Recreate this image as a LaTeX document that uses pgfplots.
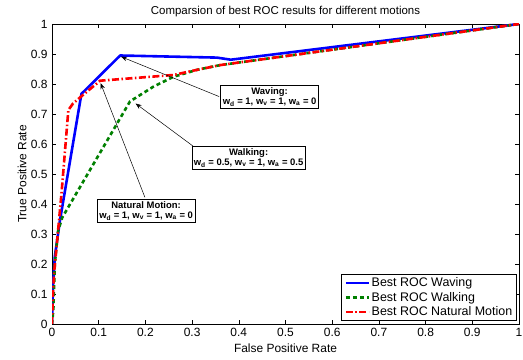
\documentclass[border=0pt]{standalone}
\usepackage{fontspec}
\setmainfont{Liberation Sans}
\usepackage{pgfplots}
\pgfplotsset{compat=1.18}
\usetikzlibrary{arrows.meta}
\definecolor{mblue}{rgb}{0,0,1}
\definecolor{mgreen}{rgb}{0,0.5,0}
\definecolor{mred}{rgb}{1,0,0}
\begin{document}
\begin{tikzpicture}
\useasboundingbox (0,0) rectangle (523bp,360bp);
\begin{axis}[
  at={(52bp,36bp)}, anchor=south west,
  width=467bp, height=300bp, scale only axis,
  xmin=0, xmax=1, ymin=0, ymax=1,
  xtick={0,0.1,0.2,0.3,0.4,0.5,0.6,0.7,0.8,0.9,1},
  ytick={0,0.1,0.2,0.3,0.4,0.5,0.6,0.7,0.8,0.9,1},
  /pgf/number format/.cd, fixed, precision=1, assume math mode=true, /pgfplots/.cd,
  tick align=inside, major tick length=4bp,
  tick style={line width=0.6bp, black},
  axis line style={line width=0.7bp},
  tick label style={font=\fontsize{12}{14}\selectfont},
  xticklabel style={yshift=-1bp},
  yticklabel style={xshift=-1bp},
  xlabel={False Positive Rate},
  ylabel={True Positive Rate},
  label style={font=\fontsize{12}{14}\selectfont},
  xlabel style={at={(axis description cs:0.5,-0.08)}, anchor=center},
  ylabel style={at={(axis description cs:-0.064,0.5)}, anchor=center},
  title={Comparsion of best ROC results for different motions},
  title style={font=\fontsize{11.5}{13}\selectfont, at={(axis description cs:0.5,1.022)}, anchor=center},
  legend cell align=left,
  legend style={at={(axis description cs:1,0)}, anchor=south east, xshift=-2bp, yshift=3bp,
    font=\fontsize{12.5}{14}\selectfont, draw=black, line width=0.6bp,
    inner xsep=3bp, inner ysep=1.5bp, row sep=0bp,
    nodes={inner xsep=1.5bp}},
  legend image code/.code={\draw[#1] (0bp,0bp) -- (23bp,0bp);},
]
\addplot[mblue, line width=2.6bp, line join=round] coordinates {
 (0,0) (0.002,0.12) (0.006,0.224) (0.017,0.345) (0.063,0.767)
 (0.146,0.895) (0.353,0.888) (0.383,0.881) (1,1)};
\addlegendentry{Best ROC Waving}
\addplot[mgreen, line width=2.6bp, dash pattern=on 4bp off 3bp] coordinates {
 (0,0) (0.003,0.05) (0.006,0.2) (0.013,0.31) (0.022,0.355) (0.167,0.742)
 (0.217,0.791) (0.26,0.824) (0.31,0.847) (0.36,0.863) (1,1)};
\addlegendentry{Best ROC Walking}
\addplot[mred, line width=2.6bp, dash pattern=on 7bp off 2.5bp on 1.5bp off 2.5bp] coordinates {
 (0,0) (0.002,0.1) (0.005,0.18) (0.01,0.26) (0.021,0.447) (0.035,0.713)
 (0.045,0.735) (0.066,0.763) (0.103,0.811) (0.26,0.83) (0.31,0.847) (0.36,0.863) (1,1)};
\addlegendentry{Best ROC Natural Motion}

\draw[line width=0.5bp, -{Stealth[length=6bp,width=4.5bp]}] (axis cs:0.358,0.758) -- (axis cs:0.148,0.891);
\draw[line width=0.5bp, -{Stealth[length=6bp,width=4.5bp]}] (axis cs:0.302,0.593) -- (axis cs:0.179,0.735);
\draw[line width=0.5bp, -{Stealth[length=6bp,width=4.5bp]}] (axis cs:0.199,0.422) -- (axis cs:0.104,0.803);

\tikzset{ann/.style={draw=black, fill=white, line width=0.6bp, align=center,
  font=\bfseries\fontsize{9.5}{10.5}\selectfont, inner xsep=2bp, inner ysep=2bp}}
\node[ann] at (axis cs:0.466,0.757) {Waving:\\w\textsubscript{d} = 1, w\textsubscript{v} = 1, w\textsubscript{a} = 0};
\node[ann] at (axis cs:0.421,0.553) {Walking:\\w\textsubscript{d} = 0.5, w\textsubscript{v} = 1, w\textsubscript{a} = 0.5};
\node[ann] at (axis cs:0.2015,0.376) {Natural Motion:\\w\textsubscript{d} = 1, w\textsubscript{v} = 1, w\textsubscript{a} = 0};
\end{axis}
\end{tikzpicture}
\end{document}
